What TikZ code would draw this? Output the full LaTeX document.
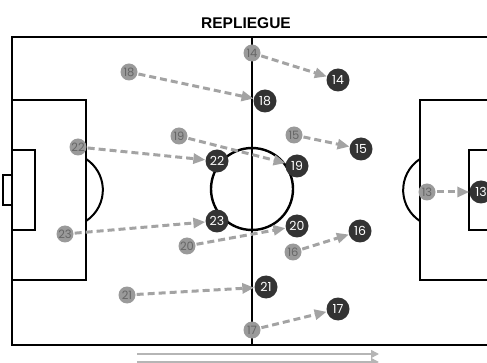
\documentclass[tikz,border=0pt]{standalone}
\usepackage{fontspec}
\setmainfont{Liberation Sans}
\newfontfamily\numfont{Poppins}
\usetikzlibrary{arrows.meta}

\definecolor{jdark}{HTML}{333333}
\definecolor{jgris}{HTML}{9A9A9A}
\definecolor{jtexte}{HTML}{666666}
\definecolor{fleche}{HTML}{A3A3A3}

\tikzset{
  ligne/.style={black, line width=2.6pt},
  arc/.style={black, line width=2pt},
  avant/.style={circle, fill=jgris, text=jtexte, minimum size=17pt, inner sep=0pt, font=\numfont\fontsize{11.5}{12}\selectfont},
  apres/.style={circle, fill=jdark, text=white, minimum size=23pt, inner sep=0pt, font=\numfont\fontsize{12.5}{13}\selectfont},
  repli/.style={fleche, line width=3pt, dash pattern=on 7pt off 4pt, shorten <=1pt, ->},
  sens/.style={fleche!80, line width=1.6pt, -{Triangle[length=8pt,width=8pt]}}
}

\begin{document}
\begin{tikzpicture}[x=1pt, y=-1pt, >={Triangle[length=12pt,width=10pt]}]
  \useasboundingbox (0,0) rectangle (487,363);

  % ==========================================
  % TERRAIN
  % ==========================================
  % Contour et ligne médiane
  \draw[ligne] (12,37) rectangle (493,345);
  \draw[ligne, line width=2.3pt] (252,37) -- (252,345);
  \draw[arc, line width=2.4pt] (252,189) circle (41);

  % Surface de gauche
  \draw[ligne] (12,100) rectangle (86,280);
  \draw[ligne] (12,150) rectangle (35,230);
  \draw[ligne, line width=2pt] (3,175) rectangle (12,205);
  \draw[arc] (86,221) arc[start angle=57, end angle=-57, radius=37];

  % Surface de droite
  \draw[ligne] (420,100) rectangle (493,280);
  \draw[ligne] (469,150) rectangle (493,230);
  \draw[arc] (420,159) arc[start angle=237, end angle=123, radius=37];

  % Titre
  \node[font=\bfseries\fontsize{15.5}{16}\selectfont] (titre) at (246,23) {REPLIEGUE};

  % ==========================================
  % POSITIONS DE DÉPART
  % ==========================================
  \node[avant] (a14) at (252,53) {14};
  \node[avant] (a18) at (129,72) {18};
  \node[avant] (a19) at (179,136) {19};
  \node[avant] (a15) at (294,135) {15};
  \node[avant] (a22) at (78,147) {22};
  \node[avant] (a13) at (427,192) {13};
  \node[avant] (a23) at (65,234) {23};
  \node[avant] (a20) at (187,246) {20};
  \node[avant] (a16) at (293,252) {16};
  \node[avant] (a21) at (127,295) {21};
  \node[avant] (a17) at (252,330) {17};

  % ==========================================
  % POSITIONS DE REPLI
  % ==========================================
  \node[apres] (b14) at (338,80) {14};
  \node[apres] (b18) at (265,101) {18};
  \node[apres] (b15) at (361,149) {15};
  \node[apres] (b19) at (297,166) {19};
  \node[apres] (b22) at (217,161) {22};
  \node[apres] (b13) at (481,192) {13};
  \node[apres] (b23) at (217,221) {23};
  \node[apres] (b20) at (297,226) {20};
  \node[apres] (b16) at (360,231) {16};
  \node[apres] (b21) at (266,287) {21};
  \node[apres] (b17) at (338,309) {17};

  % Déplacements
  \draw[repli] (a14) -- (b14);
  \draw[repli] (a18) -- (b18);
  \draw[repli] (a15) -- (b15);
  \draw[repli] (a19) -- (b19);
  \draw[repli] (a22) -- (b22);
  \draw[repli] (a13) -- (b13);
  \draw[repli] (a23) -- (b23);
  \draw[repli] (a20) -- (b20);
  \draw[repli] (a16) -- (b16);
  \draw[repli] (a21) -- (b21);
  \draw[repli] (a17) -- (b17);

  % Sens du jeu
  \coordinate (s1) at (137,354);
  \coordinate (e1) at (379,354);
  \coordinate (s2) at (137,362);
  \coordinate (e2) at (379,362);
  \draw[sens] (s1) -- (e1);
  \draw[sens] (s2) -- (e2);

\end{tikzpicture}
\end{document}
